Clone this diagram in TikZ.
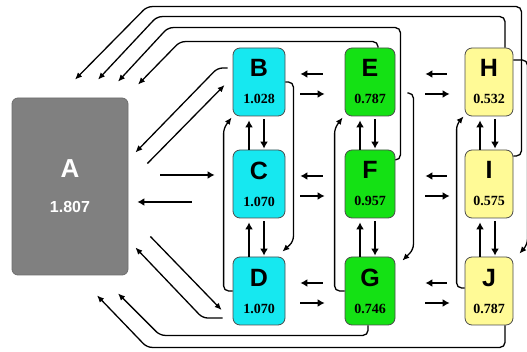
\documentclass[tikz,border=0pt]{standalone}
\usepackage{fontspec}
\setmainfont{Liberation Sans}
\newfontfamily\valfont{Liberation Serif}
\usetikzlibrary{arrows.meta,calc}

\definecolor{cellgray}{RGB}{128,128,128}
\definecolor{cellcyan}{RGB}{22,232,240}
\definecolor{cellgreen}{RGB}{20,225,20}
\definecolor{cellyellow}{RGB}{255,250,150}

\newcommand{\val}{\valfont\bfseries\fontsize{14}{16}\selectfont}

\begin{document}
\begin{tikzpicture}[
  x=1pt, y=-1pt,
  cell/.style={draw=black!70, line width=0.8pt, rounded corners=7pt, minimum width=50pt, minimum height=68pt, inner sep=0pt, align=center, font=\fontsize{25}{30}\selectfont\bfseries},
  cyancell/.style={cell, fill=cellcyan, minimum width=52pt},
  greencell/.style={cell, fill=cellgreen},
  yellowcell/.style={cell, fill=cellyellow, minimum width=48pt},
  arrow/.style={-{Latex[length=7pt,width=8pt]}, line width=2pt},
  route/.style={-{Latex[length=7pt,width=6pt]}, line width=1.3pt, rounded corners=5pt}
]
\useasboundingbox (0,0) rectangle (527,352);
\node[cell, fill=cellgray, draw=cellgray!85!black, text=white, minimum width=116pt, minimum height=177pt, rounded corners=6pt, font=\fontsize{26}{31}\selectfont\bfseries] (A) at (70,186.5) {A\\[4pt]{\fontsize{16}{19}\selectfont 1.807}};
\node[cyancell] (B) at (259,82) {B\\[-3pt]{\val 1.028}};
\node[cyancell] (C) at (259,184) {C\\[-3pt]{\val 1.070}};
\node[cyancell] (D) at (259,291) {D\\[-3pt]{\val 1.070}};
\node[greencell] (E) at (370,82) {E\\[-3pt]{\val 0.787}};
\node[greencell] (F) at (370,184) {F\\[-3pt]{\val 0.957}};
\node[greencell] (G) at (370,291) {G\\[-3pt]{\val 0.746}};
\node[yellowcell] (H) at (489,82) {H\\[-3pt]{\val 0.532}};
\node[yellowcell] (I) at (489,184) {I\\[-3pt]{\val 0.575}};
\node[yellowcell] (J) at (489,291) {J\\[-3pt]{\val 0.787}};
% short arrows between the columns
\draw[arrow] ($(C.west)+(-41,18)$) -- ($(A.east |- C.west)+(9,18)$);
\draw[arrow] ($(A.east |- C.west)+(32,-9)$) -- ($(C.west)+(-18,-9)$);
\draw[arrow] ($(E.west)+(-22,-8)$) -- ($(B.east)+(15,-8)$);
\draw[arrow] ($(B.east)+(15,12)$) -- ($(E.west)+(-20,12)$);
\draw[arrow] ($(F.west)+(-22,-8)$) -- ($(C.east)+(15,-8)$);
\draw[arrow] ($(C.east)+(15,12)$) -- ($(F.west)+(-20,12)$);
\draw[arrow] ($(G.west)+(-22,-8)$) -- ($(D.east)+(15,-8)$);
\draw[arrow] ($(D.east)+(15,12)$) -- ($(G.west)+(-20,12)$);
\draw[arrow] ($(H.west)+(-18,-8)$) -- ($(E.east)+(30,-8)$);
\draw[arrow] ($(E.east)+(30,12)$) -- ($(H.west)+(-15,12)$);
\draw[arrow] ($(I.west)+(-18,-8)$) -- ($(F.east)+(30,-8)$);
\draw[arrow] ($(F.east)+(30,12)$) -- ($(I.west)+(-15,12)$);
\draw[arrow] ($(J.west)+(-18,-8)$) -- ($(G.east)+(30,-8)$);
\draw[arrow] ($(G.east)+(30,12)$) -- ($(J.west)+(-15,12)$);
% short arrows inside the columns
\draw[arrow] ($(C.north)+(-10,0)$) -- ($(B.south)+(-10,4)$);
\draw[arrow] ($(B.south)+(5,3)$) -- ($(C.north)+(5,-1)$);
\draw[arrow] ($(D.north)+(-10,0)$) -- ($(C.south)+(-10,4)$);
\draw[arrow] ($(C.south)+(5,3)$) -- ($(D.north)+(5,-1)$);
\draw[arrow] ($(F.north)+(-10,0)$) -- ($(E.south)+(-10,4)$);
\draw[arrow] ($(E.south)+(5,3)$) -- ($(F.north)+(5,-1)$);
\draw[arrow] ($(G.north)+(-10,0)$) -- ($(F.south)+(-10,4)$);
\draw[arrow] ($(F.south)+(5,3)$) -- ($(G.north)+(5,-1)$);
\draw[arrow] ($(I.north)+(-9,0)$) -- ($(H.south)+(-9,4)$);
\draw[arrow] ($(H.south)+(6,3)$) -- ($(I.north)+(6,-1)$);
\draw[arrow] ($(J.north)+(-9,0)$) -- ($(I.south)+(-9,4)$);
\draw[arrow] ($(I.south)+(6,3)$) -- ($(J.north)+(6,-1)$);
% diagonals at A
\draw[route] ($(B.west)+(-5,-14)$) -- ++(-10,0) -- ($(A.east)+(7,-34)$);
\draw[route] ($(A.east)+(19,-23)$) -- ($(B.west)+(-8,3)$);
\draw[route] ($(A.east)+(22,50)$) -- ($(D.west)+(-11,19)$);
\draw[route] ($(D.west)+(-10,27)$) -- ++(-20,0) -- ($(A.east)+(7,61)$);
% returns to A
\draw[route] ($(E.north)+(8,0)$) |- ($(A.north)+(110,-56)$) -- ($(A.north)+(68,-13)$);
\draw[route] ($(F.east)+(0,-24)$) -- ++(5,0) |- ($(A.north)+(98,-70)$) -- ($(A.north)+(48,-16)$);
\draw[route] ($(H.north)+(16,0)$) |- ($(A.north)+(87,-81)$) -- ($(A.north)+(28,-18)$);
\draw[route] ($(I.east)+(0,-28)$) -- ++(8,0) |- ($(A.north)+(77,-91)$) -- ($(A.north)+(5,-18)$);
\draw[route] ($(G.south)+(-2,0)$) |- ($(A.south)+(90,60)$) -- ($(A.south)+(48,18)$);
\draw[route] ($(J.south)+(16,0)$) |- ($(A.south)+(77,72)$) -- ($(A.south)+(27,20)$);
% skips inside the columns
\draw[route] (D.west) -| ($(B.south west)+(-9,12)$) -- ($(B.south west)+(-1,1)$);
\draw[route] (B.east) -| ($(D.north east)+(8,-15)$) -- ($(D.north east)+(-3,-5)$);
\draw[route] (G.west) -| ($(E.south west)+(-10,12)$) -- ($(E.south west)+(-2,1)$);
\draw[route] ($(E.east)+(12,11)$) -| ($(G.north east)+(18,-7)$) -- ($(G.north east)+(7,4)$);
\draw[route] ($(J.west)+(0,-3)$) -| ($(H.south west)+(-8,8)$) -- ($(H.south west)+(-1,0)$);
\draw[route] ($(H.east)+(0,-22)$) -| ($(J.north east)+(14,-12)$) -- ($(J.north east)+(6,-3)$);
\end{tikzpicture}
\end{document}
